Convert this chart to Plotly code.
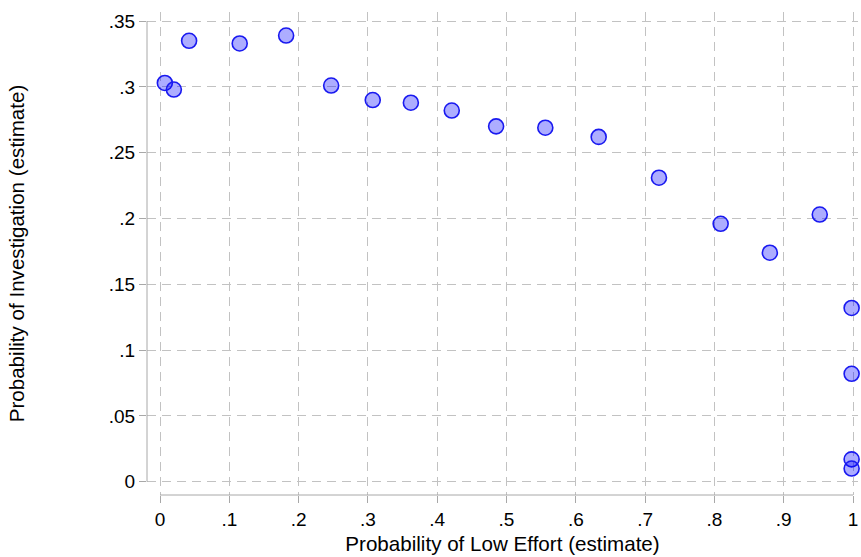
import plotly.graph_objects as go

low_effort = [0.007, 0.020, 0.042, 0.115, 0.182, 0.247, 0.307, 0.362, 0.421, 0.485,
              0.556, 0.633, 0.720, 0.809, 0.880, 0.952, 0.998, 0.998, 0.998, 0.998]
investigation = [0.303, 0.298, 0.335, 0.333, 0.339, 0.301, 0.290, 0.288, 0.282, 0.270,
                 0.269, 0.262, 0.231, 0.196, 0.174, 0.203, 0.132, 0.082, 0.017, 0.010]

x_ticks = [0, 0.1, 0.2, 0.3, 0.4, 0.5, 0.6, 0.7, 0.8, 0.9, 1]
x_labels = ["0", ".1", ".2", ".3", ".4", ".5", ".6", ".7", ".8", ".9", "1"]
y_ticks = [0, 0.05, 0.1, 0.15, 0.2, 0.25, 0.3, 0.35]
y_labels = ["0", ".05", ".1", ".15", ".2", ".25", ".3", ".35"]

GRAY = "#a8a8a8"
GRID = "#c2c2c2"
FONT = "Liberation Sans, Arial, sans-serif"

fig = go.Figure()
fig.add_trace(go.Scatter(
    x=low_effort, y=investigation, mode="markers", cliponaxis=False,
    marker=dict(size=15, color="rgba(0,0,255,0.32)",
                line=dict(color="rgb(25,25,240)", width=1.6)),
    showlegend=False, hoverinfo="x+y"))

fig.add_shape(type="line", xref="paper", yref="y", x0=0, x1=0,
              y0=y_ticks[0], y1=y_ticks[-1], line=dict(color=GRAY, width=1))
fig.add_shape(type="line", xref="x", yref="paper", x0=x_ticks[0], x1=x_ticks[-1],
              y0=0, y1=0, line=dict(color=GRAY, width=1))

fig.update_layout(
    width=861, height=557,
    margin=dict(l=147, r=3, t=12, b=62),
    paper_bgcolor="white", plot_bgcolor="white",
    font=dict(family=FONT, size=19, color="black"),
    xaxis=dict(range=[-0.01876, 1.0072], tickvals=x_ticks, ticktext=x_labels,
               ticks="outside", ticklen=7, tickcolor=GRAY, tickwidth=1,
               showline=False, zeroline=False,
               showgrid=True, gridcolor=GRID, gridwidth=1.3, griddash="9px,6px",
               title=dict(text="Probability of Low Effort (estimate)",
                          font=dict(size=20.6), standoff=7),
               tickfont=dict(size=19)),
    yaxis=dict(range=[-0.0101, 0.3569], tickvals=y_ticks, ticktext=y_labels,
               ticks="outside", ticklen=7, tickcolor=GRAY, tickwidth=1,
               showline=False, zeroline=False,
               showgrid=True, gridcolor=GRID, gridwidth=1.3, griddash="9px,6px",
               title=dict(text="Probability of Investigation (estimate)",
                          font=dict(size=20.6), standoff=78),
               tickfont=dict(size=19)),
)

fig.write_html(
    "out.html",
    config={"displayModeBar": False},
    post_script="document.body.style.margin='0';document.body.style.overflow='hidden';",
)
